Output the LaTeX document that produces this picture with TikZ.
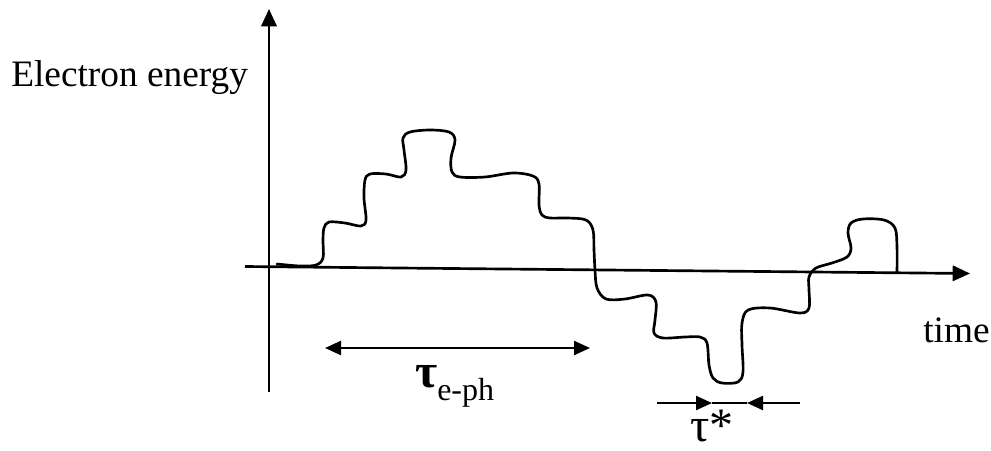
\documentclass[tikz,border=0pt]{standalone}
\usepackage{fontspec}
\setmainfont{Liberation Serif}
\usetikzlibrary{arrows.meta}
\begin{document}
\begin{tikzpicture}[x=0.75pt,y=-0.75pt,
  axis/.style={line width=2pt,-{Triangle[length=13pt,width=11.5pt]}},
  span/.style={line width=1.7pt},
  bigtip/.style={-{Triangle[length=12pt,width=10.5pt]}},
  lab/.style={anchor=base west,inner sep=0pt,font=\fontsize{28}{32}\selectfont},
  taulab/.style={anchor=base west,inner sep=0pt,font=\fontsize{36}{40}\selectfont},
  sublab/.style={anchor=base west,inner sep=0pt,font=\fontsize{24}{28}\selectfont},
  signal/.style={line width=2pt,line join=round,line cap=round}]
\useasboundingbox (0,0) rectangle (991,450);
% axes
\coordinate (yb) at (269,392);
\coordinate (yt) at (269,9);
\draw[axis] (yb) -- (yt);
\coordinate (xl) at (245,266.5);
\coordinate (xr) at (970,273.5);
\draw[axis] (xl) -- (xr);
% labels
\node[lab] (ylab) at (11,86) {Electron energy};
\node[lab] (xlab) at (923,342) {time};
% tau e-ph span
\coordinate (al) at (325,348);
\coordinate (ar) at (590,348);
\draw[span,{Triangle[length=12pt,width=10.5pt]}-{Triangle[length=12pt,width=10.5pt]}] (al) -- (ar);
\node[taulab,font=\fontsize{36}{40}\selectfont\bfseries] (tau1) at (415,387) {τ};
\node[sublab] (sub) at (437,400) {e-ph};
% tau* span
\coordinate (s1) at (657,403);
\coordinate (t1) at (712,403);
\coordinate (s2) at (800,403);
\coordinate (t2) at (747,403);
\draw[span,bigtip] (s1) -- (t1);
\draw[span,bigtip] (s2) -- (t2);
\draw[span] (t1) -- (t2);
\node[taulab] (tau2) at (690,441) {τ*};
% signal curve
\draw[signal] plot[smooth,tension=0.55] coordinates {
 (277,264) (300,266) (316,265) (323,258) (323,240) (324,228) (329,222)
 (345,223) (361,226) (366,220) (364,198) (365,180) (370,174)
 (386,174) (401,177) (406,170) (404,150) (403,138) (410,132)
 (430,130) (449,132) (455,140) (451,158) (452,172) (460,177)
 (485,177) (513,173) (533,176) (539,184) (539,205) (542,215) (550,218)
 (568,218) (586,220) (593,230) (594,250) (595,270) (597,288) (606,299)
 (625,299) (648,295) (656,302) (655,320) (654,333) (663,338)
 (685,337) (700,337) (707,343) (709,365) (713,378) (722,383)
 (738,382) (743,372) (742,345) (742,323) (748,310)
 (770,308) (800,313) (809,308) (809,290) (809,277) (816,268)
 (832,263) (847,257) (851,248) (848,233) (851,223) (863,219)
 (884,220) (895,228) (897,247) (897,272)
};
\end{tikzpicture}
\end{document}
